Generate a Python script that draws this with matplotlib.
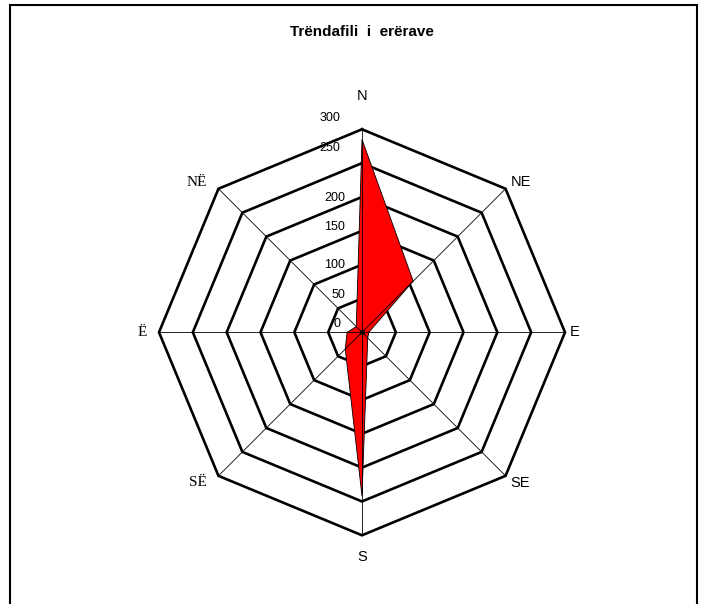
# wind rose (radar chart, excel style)

import numpy as np
import matplotlib
matplotlib.use('Agg')
import matplotlib.pyplot as plt
from matplotlib.patches import Rectangle

plt.rcParams['font.family'] = ['Liberation Sans', 'DejaVu Sans']

title = 'Trëndafili  i  erërave'
directions = ['N', 'NE', 'E', 'SE', 'S', 'SË', 'Ë', 'NË']
values = [285, 107, 10, 12, 242, 35, 22, 12]
rings = [50, 100, 150, 200, 250, 300]
tick_labels = ['0', '50', '100', '150', '200', '250', '300']
tick_label_r = [13, 55, 100, 156, 199, 272, 317]   # excel puts them a bit off

W, H, dpi = 705, 604, 100
cx, cy = 362, 332.3          # centre of the rose in pixels (from top)
scale = 203 / 300.0          # pixels per unit

fig = plt.figure(figsize=(W / dpi, H / dpi), dpi=dpi)
ax = fig.add_axes([0, 0, 1, 1])
ax.set_xlim(-cx / scale, (W - cx) / scale)
ax.set_ylim(-(H - cy) / scale, cy / scale)
ax.axis('off')

# angles clockwise from north
ang = np.deg2rad(np.arange(len(directions)) * 360.0 / len(directions))
ux, uy = np.sin(ang), np.cos(ang)

# octagon rings (under the data)
for r in rings:
    ax.plot(np.append(ux, ux[0]) * r, np.append(uy, uy[0]) * r,
            color='black', lw=1.9, zorder=1, solid_joinstyle='miter')

# data polygon
v = np.array(values)
ax.fill(ux * v, uy * v, facecolor='#ff0000', edgecolor='black', lw=0.6, zorder=2)

# spokes over data
for x, y in zip(ux, uy):
    ax.plot([0, x * rings[-1]], [0, y * rings[-1]], color='black', lw=0.6, zorder=3)
ax.plot([0], [0], 'o', color='black', ms=2.5, zorder=4)

# direction labels
offs = [(0, 26, 'center', 'bottom'), (5, 0, 'left', 'bottom'), (5, 0, 'left', 'center'),
        (5, 0, 'left', 'top'), (0, -15, 'center', 'top'), (-12, 0, 'right', 'top'),
        (-12, 0, 'right', 'center'), (-12, 0, 'right', 'bottom')]
for lab, x, y, (ox, oy, ha, va) in zip(directions, ux, uy, offs):
    fam = ['Liberation Serif'] if 'Ë' in lab else ['Liberation Sans']
    size = 11 if 'Ë' in lab else 10.5
    ax.annotate(lab, xy=(x * rings[-1], y * rings[-1]), xytext=(ox, oy),
                textcoords='offset pixels', ha=ha, va=va, fontsize=size,
                family=fam, zorder=5)

# value axis labels along north spoke
for lab, r in zip(tick_labels, tick_label_r):
    dx = -22 if lab in ('0', '250', '300') else -17
    ax.annotate(lab, xy=(0, r), xytext=(dx, 0), textcoords='offset pixels',
                ha='right', va='center', fontsize=9, zorder=5)

fig.text(cx / W, 1 - 31.7 / H, title, ha='center', va='center',
         fontsize=11, fontweight='bold')

# chart area border
fig.patches.append(Rectangle((9.5 / W, -0.01), (697 - 9.5) / W, 1.01 - 4.5 / H,
                             transform=fig.transFigure, fill=False,
                             edgecolor='black', lw=1.5))

fig.savefig('out.png', dpi=dpi)
